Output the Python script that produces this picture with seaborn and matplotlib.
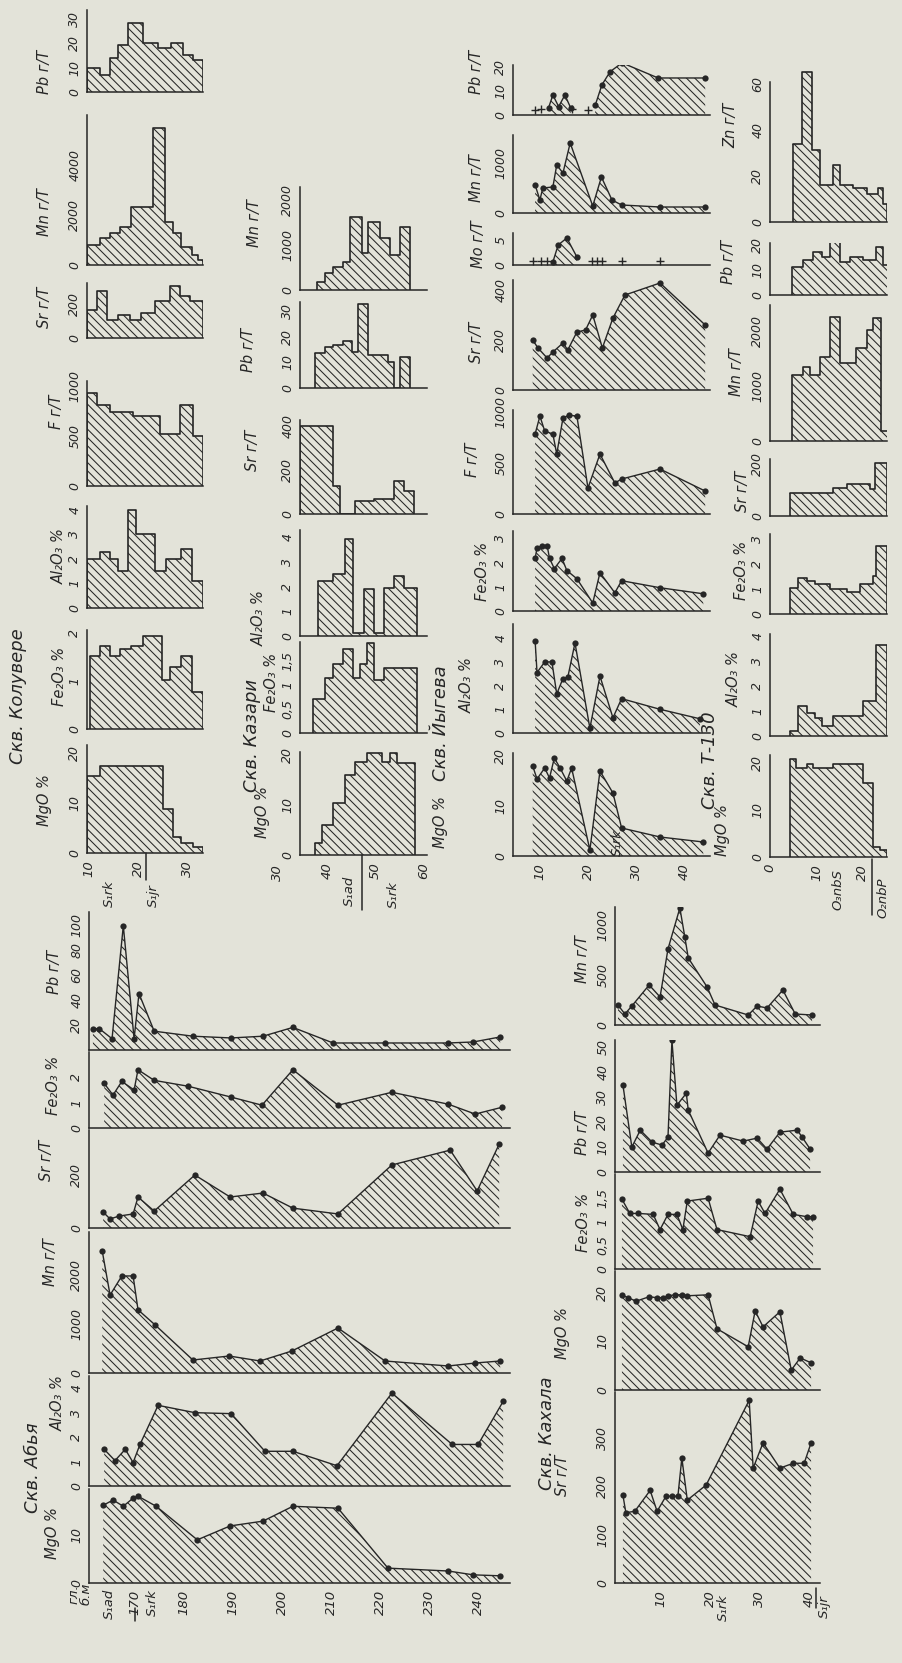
import matplotlib.pyplot as plt
import matplotlib.transforms as mtransforms
import numpy as np
import seaborn as sns

# ---------------- values ----------------
# Скв. Колувере (step profiles): depth edges in m, one value per interval
kol_pb_edges = [9.7, 12.2, 14.2, 15.9, 18.0, 21.0, 24.0, 26.7, 29.1, 31.1, 33.1]
kol_pb = [10, 7, 14, 19, 28, 20, 18, 20, 15, 13]
kol_mn_edges = [9.7, 12.2, 14.2, 16.3, 18.6, 23.0, 25.4, 27.0, 28.7, 30.8, 32.1, 33.1]
kol_mn = [800, 1070, 1270, 1530, 2330, 5470, 1730, 1270, 730, 400, 200]
kol_sr_edges = [9.6, 11.6, 13.6, 15.9, 18.3, 20.6, 23.3, 26.4, 28.4, 30.4, 33.1]
kol_sr = [167, 275, 108, 137, 108, 147, 216, 304, 245, 216]
kol_f_edges = [9.7, 11.6, 14.2, 19.0, 24.3, 28.4, 31.1, 33.1]
kol_f = [930, 810, 740, 700, 520, 810, 500]
kol_al_edges = [9.7, 12.2, 14.2, 15.9, 18.0, 19.6, 23.3, 25.7, 28.7, 30.8, 33.1]
kol_al = [2.0, 2.3, 2.0, 1.5, 4.0, 3.0, 1.5, 2.0, 2.4, 1.1]
kol_fe_edges = [10.2, 12.2, 14.2, 16.3, 18.6, 21.0, 24.7, 26.4, 28.7, 30.8, 33.1]
kol_fe = [1.52, 1.72, 1.52, 1.66, 1.72, 1.93, 1.03, 1.3, 1.52, 0.76]
kol_mg_edges = [9.7, 12.2, 25.0, 27.0, 28.7, 31.1, 33.1]
kol_mg = [15.4, 17.4, 8.8, 3.2, 2.0, 1.2]

# Скв. Казари (step profiles)
kaz_mn_edges = [37.7, 39.4, 41.2, 43.3, 44.7, 47.1, 48.5, 51.0, 53.1, 55.2, 57.3]
kaz_mn = [185, 370, 519, 630, 1630, 815, 1520, 1150, 778, 1407]
kaz_pb_edges = [37.3, 39.4, 41.2, 43.3, 45.0, 46.4, 48.5, 52.7, 53.8, 55.2, 57.3]
kaz_pb = [13.7, 16, 17, 18.3, 14, 33, 13, 10, 0, 12]
kaz_sr_edges = [34.2, 41.2, 42.6, 45.7, 49.6, 53.8, 55.9, 58.0]
kaz_sr = [400, 127, 0, 59, 68, 150, 105]
kaz_al_edges = [38.0, 41.2, 43.6, 45.4, 47.5, 49.6, 51.7, 53.8, 55.9, 58.7]
kaz_al = [2.24, 2.5, 3.95, 0.12, 1.9, 0.12, 1.96, 2.45, 1.96]
kaz_fe_edges = [37.0, 39.4, 41.2, 43.3, 45.4, 46.8, 48.2, 49.6, 51.7, 54.1, 58.7]
kaz_fe = [0.71, 1.15, 1.44, 1.75, 1.15, 1.44, 1.87, 1.1, 1.35, 1.35]
kaz_mg_edges = [37.3, 38.9, 41.2, 43.6, 45.7, 48.2, 51.3, 53.1, 54.5, 58.3]
kaz_mg = [2.5, 6, 10.4, 16, 18.6, 20.4, 18.6, 20.4, 18.4]

# Скв. Йыгева (point profiles)
jog_pb1_d = [11.8, 12.7, 13.9, 15.2, 16.4]
jog_pb1 = [3, 8.3, 3.5, 8.3, 3]
jog_pb2_d = [21.5, 22.9, 24.6, 27.1, 34.6, 44.4]
jog_pb2 = [4, 12.5, 18, 21.7, 15.4, 15.4]
jog_pb_plus_d = [9.0, 10.2, 16.6, 20.0]
jog_pb_plus = [2, 2.5, 2.5, 2]
jog_mn_d = [9.0, 10.0, 10.6, 12.7, 13.5, 14.8, 16.3, 21.0, 22.8, 25.0, 27.0, 35.0, 44.4]
jog_mn = [560, 260, 500, 520, 960, 800, 1400, 140, 720, 260, 160, 120, 120]
jog_mo_d = [12.7, 13.8, 15.6, 17.7]
jog_mo = [0.6, 4.0, 5.4, 1.6]
jog_mo_plus_d = [8.6, 10.2, 11.5, 20.8, 21.9, 23.0, 27.0, 35.0]
jog_mo_plus = [0.8, 0.8, 0.8, 0.8, 0.8, 0.8, 0.8, 0.8]
jog_sr_d = [8.5, 9.6, 11.5, 12.7, 14.8, 15.8, 17.7, 19.5, 21.0, 23.0, 25.2, 27.7, 35.0, 44.4]
jog_sr = [200, 168, 128, 152, 188, 160, 232, 240, 300, 168, 288, 380, 428, 260]
jog_f_d = [9.0, 10.0, 11.0, 12.7, 13.5, 14.8, 16.0, 17.7, 20.0, 22.5, 25.6, 27.0, 35.0, 44.4]
jog_f = [784, 960, 814, 784, 588, 941, 970, 960, 255, 588, 304, 343, 441, 225]
jog_fe_d = [9.0, 9.4, 10.5, 11.5, 12.0, 13.0, 14.6, 15.6, 17.7, 21.0, 22.5, 25.6, 27.0, 35.0, 44.0]
jog_fe = [2.17, 2.6, 2.7, 2.7, 2.17, 1.75, 2.17, 1.67, 1.33, 0.33, 1.58, 0.75, 1.25, 0.96, 0.71]
jog_al_d = [9.0, 9.4, 11.0, 12.5, 13.5, 14.8, 15.8, 17.3, 20.4, 22.5, 25.2, 27.0, 35.0, 43.3]
jog_al = [3.9, 2.55, 3.0, 3.0, 1.65, 2.3, 2.35, 3.8, 0.2, 2.4, 0.64, 1.45, 1.0, 0.6]
jog_mg_d = [8.5, 9.4, 11.0, 12.0, 13.0, 14.2, 15.6, 16.6, 20.4, 22.5, 25.2, 27.0, 35.0, 44.0]
jog_mg = [18, 15.4, 17.6, 15.6, 19.6, 17.6, 15.0, 17.6, 1.2, 17.0, 12.6, 5.6, 3.8, 2.8]

# Скв. Т-130 (step profiles)
t130_zn_edges = [5.0, 6.8, 9.0, 10.75, 13.6, 15.05, 17.9, 20.8, 23.3, 24.4, 25.2]
t130_zn = [34, 65.3, 31.3, 16, 24.7, 16, 14.7, 12, 14.7, 8]
t130_pb_edges = [4.7, 7.2, 9.3, 11.1, 12.9, 15.05, 17.2, 20.1, 22.9, 24.4, 25.4]
t130_pb = [11.3, 14, 17.3, 15.3, 22.7, 13.3, 15.3, 14, 19.3, 12]
t130_mn_edges = [4.7, 7.2, 8.6, 10.75, 12.9, 15.05, 18.6, 20.8, 22.2, 24.0, 25.4]
t130_mn = [1200, 1345, 1200, 1530, 2250, 1420, 1690, 2020, 2240, 180]
t130_sr_edges = [4.3, 13.6, 16.5, 21.5, 22.6, 25.1]
t130_sr = [88, 108, 123, 104, 204]
t130_fe_edges = [4.3, 6.1, 7.9, 9.7, 12.9, 16.5, 19.35, 22.1, 22.9, 25.1]
t130_fe = [1.04, 1.44, 1.32, 1.2, 1.0, 0.87, 1.2, 1.52, 2.72]
t130_al_edges = [4.3, 6.1, 7.9, 9.7, 11.1, 13.6, 20.1, 22.9, 25.1]
t130_al = [0.2, 1.2, 0.92, 0.72, 0.4, 0.8, 1.4, 3.67]
t130_mg_edges = [4.3, 5.7, 7.9, 9.3, 13.6, 20.1, 22.2, 23.7, 25.1]
t130_mg = [20.8, 19, 19.8, 19, 19.8, 15.7, 2.1, 1.5]

# Скв. Абья (point profiles), depth in m
abja_pb_d = [161.4, 162.7, 165.3, 167.6, 169.8, 170.8, 173.9, 181.8, 189.6, 196.1, 202.2, 210.4, 221.0, 233.9, 239.0, 244.5]
abja_pb = [17, 17, 9, 99, 9, 45, 15, 11, 9.6, 11, 18, 5.6, 5.6, 5.6, 6.4, 10.4]
abja_fe_d = [163.7, 165.5, 167.3, 169.8, 170.6, 173.9, 180.8, 189.6, 195.9, 202.2, 211.4, 222.4, 233.9, 239.4, 244.9]
abja_fe = [1.76, 1.3, 1.84, 1.5, 2.3, 1.88, 1.65, 1.22, 0.9, 2.3, 0.9, 1.41, 0.94, 0.55, 0.82]
abja_sr_d = [163.5, 164.9, 166.7, 169.6, 170.6, 173.9, 182.2, 189.4, 196.1, 202.2, 211.4, 222.4, 234.3, 239.8, 244.3]
abja_sr = [60, 34, 45, 53, 117, 64, 200, 117, 132, 75, 53, 238, 294, 140, 317]
abja_mn_d = [163.3, 164.9, 167.3, 169.6, 170.6, 174.1, 181.8, 189.2, 195.5, 202.0, 211.4, 221.0, 233.9, 239.4, 244.5]
abja_mn = [2490, 1590, 1980, 1980, 1290, 980, 265, 347, 245, 449, 918, 245, 143, 204, 245]
abja_al_d = [163.7, 165.9, 168.0, 169.6, 171.0, 174.7, 182.2, 189.6, 196.5, 202.2, 211.2, 222.4, 234.7, 240.0, 245.1]
abja_al = [1.5, 1.04, 1.5, 0.96, 1.7, 3.3, 3.0, 2.96, 1.42, 1.42, 0.83, 3.8, 1.7, 1.7, 3.46]
abja_mg_d = [163.5, 165.5, 167.6, 169.6, 170.6, 174.3, 182.7, 189.4, 196.1, 202.2, 211.4, 221.6, 233.9, 239.0, 244.5]
abja_mg = [16.2, 17.3, 16.0, 17.7, 18.1, 16.0, 9.0, 11.9, 12.9, 16.0, 15.6, 3.1, 2.5, 1.7, 1.5]

# Скв. Кахала (point profiles)
kah_mn_d = [1.4, 2.8, 4.2, 7.7, 9.9, 11.5, 13.9, 14.9, 15.6, 19.4, 21.0, 27.7, 29.5, 31.5, 34.7, 37.2, 40.6]
kah_mn = [200, 110, 190, 400, 280, 760, 1170, 880, 670, 380, 200, 100, 190, 170, 350, 110, 100]
kah_pb_d = [2.4, 4.2, 5.9, 8.3, 10.3, 11.5, 12.3, 13.3, 15.2, 15.6, 19.6, 22.0, 26.7, 29.5, 31.5, 34.1, 37.6, 38.6, 40.2]
kah_pb = [35, 10, 16.8, 12, 10.8, 14, 52.8, 26.8, 31.6, 24.8, 7.6, 14.8, 12.4, 13.6, 9.2, 16, 16.8, 14, 9.2]
kah_fe_d = [2.2, 3.8, 5.5, 8.5, 9.9, 11.5, 13.3, 14.5, 15.4, 19.6, 21.4, 28.1, 29.7, 31.1, 34.1, 36.8, 39.6, 40.8]
kah_fe = [1.47, 1.17, 1.17, 1.15, 0.83, 1.15, 1.15, 0.83, 1.43, 1.49, 0.83, 0.68, 1.43, 1.17, 1.68, 1.15, 1.1, 1.1]
kah_mg_d = [2.2, 3.4, 5.1, 7.7, 9.3, 10.5, 11.5, 12.9, 14.3, 15.4, 19.6, 21.4, 27.7, 29.1, 30.7, 34.1, 36.4, 38.2, 40.4]
kah_mg = [19.6, 19.0, 18.3, 19.2, 19.0, 19.0, 19.4, 19.6, 19.6, 19.4, 19.6, 12.6, 8.9, 16.3, 13.0, 16.1, 4.1, 6.6, 5.6]
kah_sr_d = [2.4, 3.0, 4.8, 7.9, 9.3, 11.1, 12.3, 13.5, 14.3, 15.4, 19.2, 27.9, 28.7, 30.7, 34.1, 36.8, 39.0, 40.4]
kah_sr = [181, 145, 148, 191, 148, 179, 179, 179, 258, 171, 202, 377, 237, 289, 237, 247, 247, 289]

# stratigraphic boundaries (depth, m)
kol_boundary = 21.5
kaz_boundary = 47.2
t130_boundary = 21.9
abja_boundary = 170.0
kah_boundary = 41.3

# ---------------- layout / style ----------------
W, H = 902, 1663
PAPER = '#e3e3d9'
INK = '#262626'
HATCH = '\\\\\\\\'

sns.set_theme(style='white')
plt.rcParams['font.family'] = ['DejaVu Sans']
plt.rcParams['font.style'] = 'italic'
plt.rcParams['hatch.color'] = INK
plt.rcParams['hatch.linewidth'] = 0.75

fig = plt.figure(figsize=(W / 100, H / 100), dpi=100, facecolor=PAPER)

# pixel span of each well's depth axis, depth limits and depth ticks
wells = {
    'kol': dict(x0=87, x1=203, xlim=(9.6, 33.1), ticks=[10, 20, 30]),
    'kaz': dict(x0=300, x1=427, xlim=(34.2, 60.8), ticks=[40, 50, 60]),
    'jog': dict(x0=513, x1=710, xlim=(4.4, 45.4), ticks=[10, 20, 30, 40]),
    't130': dict(x0=770, x1=887, xlim=(0, 25.2), ticks=[0, 10, 20]),
    'abja': dict(x0=89, x1=510, xlim=(160.6, 246.5), ticks=[170, 180, 190, 200, 210, 220, 230, 240]),
    'kah': dict(x0=615, x1=820, xlim=(0.8, 42.2), ticks=[10, 20, 30, 40]),
}


def ftext(x, y, s, size=10.5, **kw):
    fig.text(x / W, 1 - y / H, s, rotation=90, ha='center', va='center',
             fontsize=size, color=INK, **kw)


def panel(well, base, top, vmax, yticks, ylabels, label, lx, ly):
    w = wells[well]
    ax = fig.add_axes([w['x0'] / W, 1 - base / H, (w['x1'] - w['x0']) / W, (base - top) / H])
    ax.set_facecolor('none')
    ax.grid(False)
    sns.despine(ax=ax)
    for side in ('left', 'bottom'):
        ax.spines[side].set_color(INK)
        ax.spines[side].set_linewidth(1.1)
    ax.set_xlim(*w['xlim'])
    ax.set_ylim(0, vmax)
    ax.set_xticks(w['ticks'])
    if ylabels is None:
        ylabels = [str(t) for t in yticks]
    ax.set_yticks(yticks, ylabels)
    ax.tick_params(direction='inout', length=6, width=1, color=INK,
                   labelcolor=INK, labelsize=9, pad=1)
    ax.tick_params(axis='x', labelbottom=False)
    ax.tick_params(axis='y', labelrotation=90)
    for t in ax.get_yticklabels():
        t.set_va('center')
    ftext(lx, ly, label)
    return ax


def draw_step(ax, edges, vals):
    xl, yl = ax.get_xlim(), ax.get_ylim()
    y = np.append(vals, vals[-1])
    ax.fill_between(edges, y, step='post', facecolor='none', edgecolor=INK,
                    hatch=HATCH, linewidth=0)
    sns.lineplot(x=edges, y=y, drawstyle='steps-post', color=INK, linewidth=1.2,
                 estimator=None, sort=False, ax=ax)
    ax.vlines([edges[0], edges[-1]], 0, [vals[0], vals[-1]], color=INK, linewidth=1.2)
    ax.set_xlim(xl)
    ax.set_ylim(yl)


def draw_line(ax, d, v, fill=True):
    xl, yl = ax.get_xlim(), ax.get_ylim()
    if fill:
        ax.fill_between(d, v, facecolor='none', edgecolor=INK, hatch=HATCH, linewidth=0)
    sns.lineplot(x=d, y=v, color=INK, linewidth=1.0, marker='o', markersize=4.5,
                 markeredgewidth=0, estimator=None, sort=False, ax=ax)
    ax.set_xlim(xl)
    ax.set_ylim(yl)


def draw_plus(ax, d, v):
    sns.scatterplot(x=d, y=v, marker='+', s=28, color=INK, linewidth=1, ax=ax)


def depth_axis(ax, labels):
    ax.set_xticks(ax.get_xticks(), labels)
    ax.tick_params(axis='x', labelbottom=True, labelrotation=90, pad=2, labelsize=9.5)


def boundary(ax, d, start_px, end_px):
    tr = mtransforms.blended_transform_factory(ax.transData, ax.transAxes)
    h = ax.get_position().height * H
    ax.plot([d, d], [-start_px / h, -end_px / h], transform=tr, color=INK,
            lw=1.1, clip_on=False)


# ---------------- Скв. Колувере ----------------
ax = panel('kol', 92, 10, 33.5, [0, 10, 20, 30], None, 'Pb г/Т', 45, 72)
draw_step(ax, kol_pb_edges, kol_pb)
ax = panel('kol', 265, 115, 6000, [0, 1000, 2000, 3000, 4000, 5000, 6000],
           ['0', '', '2000', '', '4000', '', ''], 'Mn г/Т', 45, 212)
draw_step(ax, kol_mn_edges, kol_mn)
ax = panel('kol', 338, 283, 323, [0, 100, 200, 300], ['0', '', '200', ''], 'Sr г/Т', 45, 307)
draw_step(ax, kol_sr_edges, kol_sr)
ax = panel('kol', 486, 381, 1050, [0, 500, 1000], None, 'F г/Т', 56, 412)
draw_step(ax, kol_f_edges, kol_f)
ax = panel('kol', 608, 506, 4.16, [0, 1, 2, 3, 4], None, 'Al₂O₃ %', 59, 556)
draw_step(ax, kol_al_edges, kol_al)
ax = panel('kol', 729, 630, 2.06, [0, 1, 2], None, 'Fe₂O₃ %', 59, 676)
draw_step(ax, kol_fe_edges, kol_fe)
ax = panel('kol', 853, 745, 21.6, [0, 10, 20], None, 'MgO %', 45, 800)
draw_step(ax, kol_mg_edges, kol_mg)
depth_axis(ax, ['10', '20', '30'])
boundary(ax, kol_boundary, 0, 27)
ftext(18, 696, 'Скв. Колувере', size=13)
ftext(109, 894, 'S₁rk', size=9.5)
ftext(153, 896, 'S₁jr', size=9.5)

# ---------------- Скв. Казари ----------------
ax = panel('kaz', 290, 187, 2290, [0, 500, 1000, 1500, 2000], ['0', '', '1000', '', '2000'],
           'Mn г/Т', 254, 223)
draw_step(ax, kaz_mn_edges, kaz_mn)
ax = panel('kaz', 388, 302, 33.7, [0, 10, 20, 30], None, 'Pb г/Т', 248, 350)
draw_step(ax, kaz_pb_edges, kaz_pb)
ax = panel('kaz', 514, 420, 427, [0, 100, 200, 300, 400], ['0', '', '200', '', '400'],
           'Sr г/Т', 253, 450)
draw_step(ax, kaz_sr_edges, kaz_sr)
ax = panel('kaz', 636, 530, 4.3, [0, 1, 2, 3, 4], None, 'Al₂O₃ %', 259, 618)
draw_step(ax, kaz_al_edges, kaz_al)
ax = panel('kaz', 733, 642, 1.9, [0, 0.5, 1, 1.5], ['0', '0,5', '1', '1,5'], 'Fe₂O₃ %', 272, 682)
draw_step(ax, kaz_fe_edges, kaz_fe)
ax = panel('kaz', 855, 752, 20.6, [0, 10, 20], None, 'MgO %', 262, 812)
draw_step(ax, kaz_mg_edges, kaz_mg)
depth_axis(ax, ['40', '50', '60'])
boundary(ax, kaz_boundary, 0, 55)
ftext(252, 735, 'Скв. Казари', size=13)
ftext(277, 873, '30', size=9.5)
ftext(349, 891, 'S₁ad', size=9.5)
ftext(393, 895, 'S₁rk', size=9.5)

# ---------------- Скв. Йыгева ----------------
ax = panel('jog', 115, 65, 20.8, [0, 10, 20], None, 'Pb г/Т', 477, 72)
draw_line(ax, jog_pb1_d, jog_pb1)
draw_line(ax, jog_pb2_d, jog_pb2)
draw_plus(ax, jog_pb_plus_d, jog_pb_plus)
ax = panel('jog', 213, 135, 1560, [0, 500, 1000, 1500], ['0', '', '1000', ''], 'Mn г/Т', 477, 178)
draw_line(ax, jog_mn_d, jog_mn)
ax = panel('jog', 265, 233, 6.4, [0, 5], None, 'Mo г/Т', 479, 244)
draw_line(ax, jog_mo_d, jog_mo)
draw_plus(ax, jog_mo_plus_d, jog_mo_plus)
ax = panel('jog', 390, 280, 440, [0, 100, 200, 300, 400], ['0', '', '200', '', '400'],
           'Sr г/Т', 476, 342)
draw_line(ax, jog_sr_d, jog_sr)
ax = panel('jog', 514, 410, 1020, [0, 500, 1000], None, 'F г/Т', 473, 460)
draw_line(ax, jog_f_d, jog_f)
ax = panel('jog', 611, 531, 3.3, [0, 1, 2, 3], None, 'Fe₂O₃ %', 482, 571)
draw_line(ax, jog_fe_d, jog_fe)
ax = panel('jog', 733, 624, 4.6, [0, 1, 2, 3, 4], None, 'Al₂O₃ %', 467, 685)
draw_line(ax, jog_al_d, jog_al)
ax = panel('jog', 856, 753, 20.6, [0, 10, 20], None, 'MgO %', 441, 822)
draw_line(ax, jog_mg_d, jog_mg)
depth_axis(ax, ['10', '20', '30', '40'])
ftext(441, 723, 'Скв. Йыгева', size=13)
ftext(617, 843, 'S₁rk', size=9.5)

# ---------------- Скв. Т-130 ----------------
ax = panel('t130', 222, 70, 61, [0, 10, 20, 30, 40, 50, 60], ['0', '', '20', '', '40', '', '60'],
           'Zn г/Т', 731, 125)
ax.set_ylim(0, 66)
ax.spines['left'].set_bounds(0, 61)
draw_step(ax, t130_zn_edges, t130_zn)
ax = panel('t130', 295, 243, 20.7, [0, 10, 20], None, 'Pb г/Т', 728, 262)
draw_step(ax, t130_pb_edges, t130_pb)
ax = panel('t130', 441, 305, 2470, [0, 500, 1000, 1500, 2000], ['0', '', '1000', '', '2000'],
           'Mn г/Т', 737, 372)
draw_step(ax, t130_mn_edges, t130_mn)
ax = panel('t130', 516, 459, 220, [0, 100, 200], ['0', '', '200'], 'Sr г/Т', 742, 491)
draw_step(ax, t130_sr_edges, t130_sr)
ax = panel('t130', 614, 534, 3.2, [0, 1, 2, 3], None, 'Fe₂O₃ %', 741, 570)
draw_step(ax, t130_fe_edges, t130_fe)
ax = panel('t130', 736, 634, 4.1, [0, 1, 2, 3, 4], None, 'Al₂O₃ %', 734, 679)
draw_step(ax, t130_al_edges, t130_al)
ax = panel('t130', 857, 755, 21.7, [0, 10, 20], None, 'MgO %', 722, 830)
draw_step(ax, t130_mg_edges, t130_mg)
depth_axis(ax, ['0', '10', '20'])
boundary(ax, t130_boundary, 2, 58)
ftext(710, 760, 'Скв. Т-130', size=13)
ftext(838, 890, 'O₃nbS', size=9.5)
ftext(883, 898, 'O₂nbP', size=9.5)

# ---------------- Скв. Абья ----------------
ax = panel('abja', 1050, 912, 110, [0, 20, 40, 60, 80, 100],
           ['', '20', '40', '60', '80', '100'], 'Pb г/Т', 55, 972)
draw_line(ax, abja_pb_d, abja_pb)
ax = panel('abja', 1128, 1052, 3.0, [0, 1, 2], None, 'Fe₂O₃ %', 54, 1085)
draw_line(ax, abja_fe_d, abja_fe)
ax = panel('abja', 1228, 1130, 370, [0, 100, 200, 300], ['0', '', '200', ''], 'Sr г/Т', 46, 1160)
draw_line(ax, abja_sr_d, abja_sr)
ax = panel('abja', 1373, 1232, 2877, [0, 500, 1000, 1500, 2000, 2500],
           ['0', '', '1000', '', '2000', ''], 'Mn г/Т', 51, 1262)
draw_line(ax, abja_mn_d, abja_mn)
ax = panel('abja', 1486, 1376, 4.5, [0, 1, 2, 3, 4], None, 'Al₂O₃ %', 58, 1403)
draw_line(ax, abja_al_d, abja_al)
ax = panel('abja', 1583, 1489, 19.6, [0, 10], None, 'MgO %', 53, 1533)
draw_line(ax, abja_mg_d, abja_mg)
depth_axis(ax, ['170', '180', '190', '200', '210', '220', '230', '240'])
boundary(ax, abja_boundary, 25, 38)
ftext(33, 1468, 'Скв. Абья', size=13)
ftext(74, 1594, 'гл.', size=9.5)
ftext(86, 1594, 'б.м', size=9.5)
ftext(109, 1604, 'S₁ad', size=9.5)
ftext(152, 1603, 'S₁rk', size=9.5)

# ---------------- Скв. Кахала ----------------
ax = panel('kah', 1025, 907, 1180, [0, 250, 500, 750, 1000], ['0', '', '500', '', '1000'],
           'Mn г/Т', 583, 959)
draw_line(ax, kah_mn_d, kah_mn)
ax = panel('kah', 1172, 1040, 53, [0, 10, 20, 30, 40, 50], None, 'Pb г/Т', 582, 1133)
draw_line(ax, kah_pb_d, kah_pb)
ax = panel('kah', 1269, 1174, 2.0, [0, 0.5, 1, 1.5], ['0', '0,5', '1', '1,5'], 'Fe₂O₃ %', 583, 1222)
draw_line(ax, kah_fe_d, kah_fe)
ax = panel('kah', 1390, 1271, 24.5, [0, 10, 20], None, 'MgO %', 562, 1333)
draw_line(ax, kah_mg_d, kah_mg)
ax = panel('kah', 1583, 1392, 394, [0, 100, 200, 300], None, 'Sr г/Т', 562, 1475)
draw_line(ax, kah_sr_d, kah_sr)
depth_axis(ax, ['10', '20', '30', '40'])
boundary(ax, kah_boundary, 5, 25)
ftext(547, 1433, 'Скв. Кахала', size=13)
ftext(723, 1608, 'S₁rk', size=9.5)
ftext(824, 1607, 'S₁jr', size=9.5)

fig.savefig('out.png', dpi=100, facecolor=PAPER)
